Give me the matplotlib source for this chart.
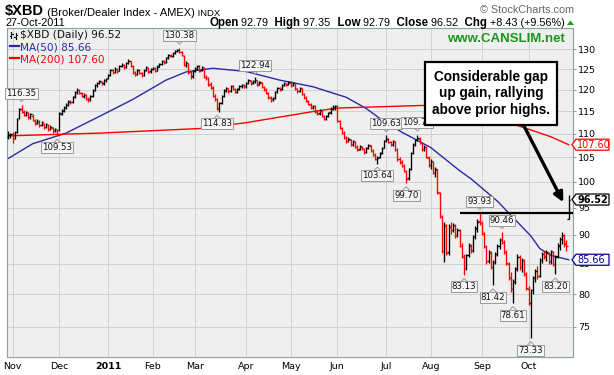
import matplotlib
matplotlib.use("Agg")
import matplotlib.pyplot as plt
from matplotlib.patches import Polygon, Rectangle
from matplotlib.lines import Line2D
from matplotlib.ticker import NullLocator
import pandas as pd

W, H = 614, 375

holidays = ["2010-11-25", "2010-12-24", "2011-01-17", "2011-02-21",
            "2011-04-22", "2011-05-30", "2011-07-04", "2011-09-05"]

# daily OHLC, 28-Oct-2010 .. 27-Oct-2011
opens = [
    109.3, 109.6, 110.0, 109.0, 110.4, 113.5, 115.6, 114.8, 114.2, 114.6, 113.6, 114.0, 112.8, 112.3, 112.6, 111.9, 112.2, 111.5, 111.8, 111.0, 111.2, 110.7, 110.6,
    110.8, 114.4, 115.1, 115.9, 116.4, 117.3, 117.1, 118.4, 119.5, 119.9, 119.1, 118.4, 118.7, 117.8, 117.7, 118.6, 119.9, 121.0, 121.6, 121.9, 121.5, 122.3,
    122.8, 123.6, 124.7, 124.3, 124.9, 124.6, 125.8, 125.9, 125.6, 126.5, 126.9, 125.7, 124.1, 123.8, 124.7, 124.0, 123.6, 124.7, 125.3, 124.4,
    125.1, 125.2, 124.6, 125.7, 126.3, 126.9, 126.7, 127.9, 128.4, 128.3, 129.1, 129.6, 129.8, 129.3, 128.4, 126.0, 126.4, 124.3, 123.2,
    124.6, 125.1, 125.7, 124.7, 125.2, 123.1, 122.7, 121.3, 120.5, 118.6, 117.7, 115.7, 116.9, 118.6, 119.9, 120.3, 119.7, 120.8, 120.1, 119.5, 120.2, 120.8, 121.1,
    120.8, 121.7, 122.1, 121.6, 122.0, 122.2, 121.3, 121.7, 120.6, 120.0, 119.2, 118.1, 117.7, 118.1, 119.6, 120.3, 120.1, 121.1, 121.4, 121.3,
    121.7, 121.1, 121.5, 120.2, 119.7, 120.3, 118.9, 118.1, 117.3, 116.5, 115.9, 116.1, 114.8, 114.5, 115.1, 113.9, 113.3, 113.9, 114.7, 115.6, 115.9,
    116.1, 112.7, 111.2, 110.2, 109.1, 108.4, 108.7, 107.7, 108.2, 107.1, 106.6, 107.2, 106.7, 106.1, 106.9, 107.4, 106.3, 105.4, 104.5, 105.0, 105.9, 107.0,
    108.5, 108.8, 108.1, 107.7, 108.2, 106.5, 104.6, 103.9, 103.1, 102.1, 100.7, 102.6, 105.9, 107.7, 108.7, 108.9, 107.9, 106.6, 107.1, 104.9,
    103.4, 104.0, 101.8, 102.4, 97.8, 93.3, 87.2, 91.6, 86.9, 91.4, 90.9, 91.6, 90.0, 90.8, 88.0, 86.2, 84.3, 86.5, 88.1, 87.3, 89.7, 91.1, 92.5,
    92.1, 90.2, 87.9, 85.5, 86.8, 84.4, 85.3, 86.7, 88.1, 89.2, 88.7, 86.9, 85.0, 82.6, 80.9, 82.1, 84.2, 86.1, 84.5, 85.5, 83.2,
    80.9, 78.6, 80.7, 82.7, 83.7, 83.0, 85.7, 86.6, 86.2, 86.8, 85.4, 87.0, 84.9, 86.3, 88.1, 89.3, 89.8, 88.5, 92.79,
]
highs = [
    110.5, 110.2, 110.3, 110.6, 113.4, 115.8, 116.35, 115.3, 115.1, 114.9, 114.6, 114.4, 113.3, 113.2, 112.9, 112.8, 112.4, 112.3, 112.1, 111.8, 111.4, 111.3, 111.0,
    114.8, 115.6, 116.1, 116.8, 117.5, 117.6, 118.6, 119.8, 120.3, 120.1, 119.4, 119.2, 118.9, 118.2, 118.8, 120.1, 121.3, 121.9, 122.4, 122.1, 122.6, 122.8,
    123.8, 125.1, 125.0, 125.4, 125.2, 126.1, 126.4, 126.2, 126.7, 127.4, 127.1, 126.0, 124.5, 125.1, 125.0, 124.3, 124.9, 125.7, 125.5, 125.3,
    125.6, 125.4, 125.9, 126.6, 127.3, 127.2, 128.1, 128.8, 128.7, 129.3, 129.9, 130.1, 130.38, 129.6, 128.6, 126.9, 126.6, 124.6, 124.8,
    125.5, 126.1, 125.9, 125.7, 125.4, 123.5, 123.0, 121.9, 120.8, 118.9, 118.0, 117.1, 118.8, 120.1, 120.7, 120.5, 121.2, 121.1, 120.4, 120.4, 121.1, 121.4, 121.3,
    121.9, 122.5, 122.3, 122.2, 122.94, 122.4, 122.1, 121.9, 120.9, 120.3, 119.5, 118.5, 118.3, 119.8, 120.7, 120.6, 121.3, 121.8, 121.6, 122.1,
    122.0, 121.9, 121.7, 120.5, 120.7, 120.5, 119.3, 118.5, 117.6, 116.9, 116.5, 116.3, 115.2, 115.5, 115.3, 114.2, 114.1, 114.9, 115.9, 116.3, 116.5,
    116.3, 113.0, 111.5, 110.6, 109.5, 109.2, 108.9, 108.6, 108.4, 107.5, 107.6, 107.4, 107.0, 107.1, 107.8, 107.6, 106.6, 105.8, 105.2, 106.1, 107.2, 108.7,
    109.63, 109.1, 108.4, 108.6, 108.4, 106.8, 105.0, 104.3, 103.5, 102.4, 102.8, 106.1, 107.9, 108.9, 109.76, 109.2, 108.2, 107.5, 107.3, 105.2,
    104.6, 104.2, 102.9, 102.6, 98.0, 93.6, 92.3, 91.9, 92.0, 92.4, 92.1, 91.9, 91.3, 91.0, 88.5, 86.6, 86.7, 88.6, 88.4, 89.9, 91.5, 92.8, 93.93,
    92.5, 90.5, 88.2, 87.3, 87.1, 85.6, 86.9, 88.3, 89.4, 90.46, 89.0, 87.3, 85.3, 83.6, 82.4, 84.5, 86.6, 86.5, 86.0, 85.8, 83.6,
    81.3, 80.9, 82.9, 84.1, 84.6, 85.9, 87.0, 87.1, 87.3, 87.0, 87.4, 87.2, 86.5, 88.5, 89.6, 90.5, 90.1, 89.0, 97.35,
]
lows = [
    108.9, 109.0, 108.0, 108.8, 110.1, 113.2, 114.6, 113.8, 113.9, 113.2, 113.3, 112.7, 111.8, 112.0, 111.4, 111.6, 111.0, 111.2, 110.6, 110.7, 110.2, 110.3, 109.53,
    110.6, 114.1, 114.8, 115.5, 116.1, 116.6, 116.9, 118.1, 119.0, 118.9, 118.2, 118.1, 117.5, 117.2, 117.4, 118.3, 119.6, 120.7, 121.3, 121.0, 121.2, 121.9,
    122.5, 123.3, 123.8, 124.0, 124.1, 124.4, 125.4, 125.1, 125.3, 126.2, 125.5, 123.9, 123.2, 123.5, 123.7, 123.1, 123.4, 124.4, 124.0, 124.1,
    124.7, 124.2, 124.4, 125.4, 126.0, 126.3, 126.5, 127.6, 127.9, 128.0, 128.8, 129.3, 129.0, 128.3, 125.8, 125.6, 123.9, 122.6, 122.9,
    124.3, 124.8, 124.3, 124.4, 122.7, 122.4, 120.9, 120.2, 118.2, 117.4, 115.3, 114.83, 116.6, 118.3, 119.5, 119.3, 119.5, 119.9, 119.1, 119.3, 119.9, 120.5, 120.4,
    120.5, 121.3, 121.2, 121.3, 121.7, 120.9, 121.0, 120.4, 119.8, 119.0, 117.9, 117.2, 117.3, 117.9, 119.3, 119.7, 119.9, 120.8, 120.9, 121.0,
    120.7, 120.8, 120.0, 119.3, 119.4, 118.7, 117.9, 117.1, 116.3, 115.5, 115.6, 114.6, 114.1, 114.2, 113.7, 112.9, 113.0, 113.6, 114.4, 115.3, 115.3,
    112.6, 111.0, 109.8, 108.9, 107.9, 108.1, 107.3, 107.4, 106.9, 106.2, 106.4, 106.5, 105.7, 105.9, 106.6, 106.1, 105.2, 104.3, 103.64, 104.8, 105.6, 106.8,
    108.2, 107.9, 107.3, 107.4, 106.3, 104.2, 103.6, 102.9, 101.9, 99.70, 100.4, 102.4, 105.6, 107.4, 108.3, 107.7, 106.2, 106.3, 104.7, 103.0,
    102.6, 101.6, 100.9, 97.6, 93.0, 86.8, 85.2, 86.4, 86.5, 90.2, 90.5, 89.5, 89.6, 87.8, 85.9, 83.13, 84.0, 86.2, 86.8, 87.0, 89.3, 90.5, 91.8,
    89.9, 87.7, 85.0, 85.1, 84.1, 81.42, 84.9, 86.3, 87.5, 88.3, 86.6, 84.7, 82.3, 80.3, 78.61, 81.7, 83.8, 84.0, 83.6, 82.9, 80.6,
    78.3, 73.33, 80.1, 82.0, 82.4, 82.8, 85.1, 85.8, 85.4, 84.9, 85.0, 84.6, 83.20, 85.9, 87.3, 88.4, 87.9, 87.2, 92.79,
]
closes = [
    109.6, 109.9, 108.9, 110.3, 113.0, 115.5, 115.0, 114.2, 114.8, 113.6, 114.3, 113.0, 112.2, 112.8, 111.8, 112.5, 111.4, 112.0, 110.9, 111.5, 110.6, 111.0, 110.0,
    114.5, 115.2, 115.8, 116.5, 117.2, 117.0, 118.3, 119.5, 120.0, 119.2, 118.5, 118.8, 117.8, 117.6, 118.5, 119.8, 121.0, 121.6, 122.0, 121.4, 122.3, 122.5,
    123.5, 124.8, 124.2, 125.0, 124.5, 125.8, 126.0, 125.5, 126.4, 127.0, 125.8, 124.2, 123.6, 124.8, 124.0, 123.5, 124.6, 125.4, 124.3, 125.0,
    125.3, 124.5, 125.6, 126.3, 127.0, 126.6, 127.8, 128.5, 128.2, 129.0, 129.6, 129.8, 129.2, 128.6, 126.0, 126.5, 124.2, 123.0, 124.5,
    125.2, 125.8, 124.6, 125.4, 123.0, 122.8, 121.2, 120.6, 118.5, 117.8, 115.6, 116.8, 118.5, 119.8, 120.4, 119.6, 120.9, 120.2, 119.4, 120.1, 120.8, 121.0, 120.7,
    121.6, 122.2, 121.5, 121.9, 122.3, 121.2, 121.8, 120.7, 120.1, 119.3, 118.2, 117.6, 118.0, 119.5, 120.4, 120.0, 121.0, 121.5, 121.2, 121.8,
    121.0, 121.6, 120.3, 119.6, 120.4, 119.0, 118.2, 117.4, 116.6, 115.8, 116.2, 114.9, 114.4, 115.2, 114.0, 113.2, 113.8, 114.6, 115.6, 116.0, 116.2,
    112.8, 111.3, 110.1, 109.2, 108.3, 108.8, 107.6, 108.3, 107.2, 106.5, 107.3, 106.8, 106.0, 106.8, 107.5, 106.4, 105.5, 104.6, 104.9, 105.8, 106.9, 108.4,
    108.9, 108.2, 107.6, 108.3, 106.6, 104.5, 104.0, 103.2, 102.2, 100.6, 102.5, 105.8, 107.6, 108.6, 109.0, 108.0, 106.5, 107.2, 105.0, 103.3,
    104.1, 101.9, 102.5, 97.9, 93.4, 87.1, 91.8, 86.8, 91.5, 90.8, 91.7, 89.9, 90.9, 88.1, 86.3, 84.2, 86.4, 88.2, 87.2, 89.6, 91.2, 92.4, 92.2,
    90.3, 88.0, 85.4, 86.9, 84.5, 85.2, 86.6, 88.0, 89.1, 88.8, 87.0, 85.1, 82.7, 81.0, 82.0, 84.1, 86.2, 84.4, 85.6, 83.3, 81.0,
    78.7, 80.6, 82.6, 83.8, 82.9, 85.6, 86.7, 86.3, 86.9, 85.3, 87.1, 85.0, 86.2, 88.2, 89.2, 89.9, 88.4, 88.09, 96.52,
]

# moving averages, read at a few bars
ma50_idx = [0, 11, 26, 41, 56, 71, 80, 92, 107, 122, 137, 152, 161, 167, 177, 190, 203, 208, 220, 229, 235, 239, 244, 252]
ma50_val = [104.7, 107.8, 110.1, 113.8, 117.7, 122.3, 124.3, 125.2, 124.4, 122.3, 120.7, 118.2, 115.6, 113.4, 110.3,
            107.0, 102.2, 100.6, 96.2, 92.3, 89.8, 87.6, 86.4, 85.66]
ma200_idx = [0, 41, 86, 107, 137, 148, 167, 186, 195, 205, 215, 225, 235, 244, 252]
ma200_val = [109.5, 110.1, 111.1, 112.4, 114.9, 115.7, 116.0, 116.3, 116.2, 115.0, 113.7, 112.4, 110.8, 109.3, 107.60]

y_ticks = [75, 80, 85, 90, 95, 100, 105, 110, 115, 120, 125, 130]
month_names = ["Nov", "Dec", "2011", "Feb", "Mar", "Apr", "May", "Jun", "Jul", "Aug", "Sep", "Oct"]

# labelled highs / lows
peak_idx = [6, 22, 77, 94, 111, 166, 170, 179, 184, 212, 205, 218, 222, 227, 235, 246]
peak_val = [116.35, 109.53, 130.38, 114.83, 122.94, 103.64, 109.63, 99.70, 109.76,
            93.93, 83.13, 81.42, 90.46, 78.61, 73.33, 83.20]
peak_side = ["hi", "lo", "hi", "lo", "hi", "lo", "hi", "lo", "hi",
             "hi", "lo", "lo", "hi", "lo", "lo", "lo"]

breakout_level = 93.93
breakout_from = 203

# trading days
dates = pd.bdate_range("2010-10-28", "2011-10-27")
dates = dates[~dates.isin(pd.to_datetime(holidays))]
n = len(closes)
dates = dates[:n]
idx = list(range(n))
month_pos = [i for i in range(1, n) if dates[i].month != dates[i - 1].month]

fig = plt.figure(figsize=(W / 100, H / 100), dpi=100)
ax = fig.add_axes([7.3 / W, 1 - 357.3 / H, (573.3 - 7.3) / W, (357.3 - 28) / H])
ax.set_facecolor("#efefef")

ax.set_yscale("log")
ax.set_ylim(70.6, 135.6)
ax.set_xlim(-0.4, 254.1)

bar_col = ["black"] + ["red" if closes[i] < closes[i - 1] else "black" for i in range(1, n)]
ax.vlines(idx, lows, highs, colors=bar_col, lw=0.95, zorder=3)
ax.hlines(opens, [i - 0.6 for i in idx], idx, colors=bar_col, lw=0.95, zorder=3)
ax.hlines(closes, idx, [i + 0.6 for i in idx], colors=bar_col, lw=0.95, zorder=3)

ax.plot(ma50_idx, ma50_val, color="#2a2aa5", lw=1.0, zorder=2)
ax.plot(ma200_idx, ma200_val, color="#ff0000", lw=1.0, zorder=2)

ax.hlines(breakout_level, breakout_from, 254.1, color="black", lw=1.6, zorder=4)

# axes styling
ax.yaxis.tick_right()
ax.set_yticks(y_ticks, labels=[str(v) for v in y_ticks])
ax.yaxis.set_minor_locator(NullLocator())
ax.set_xticks(month_pos, labels=month_names[:len(month_pos)])
ax.tick_params(axis="y", which="both", length=2.5, width=0.7, color="#8a9a9a",
               labelsize=6.8, pad=1, left=False)
ax.tick_params(axis="x", length=0, labelsize=6.8, pad=3.5)
for lab in ax.get_xticklabels():
    if lab.get_text() == "2011":
        lab.set_fontweight("bold")
ax.grid(True, color="#d2d2d2", lw=0.7, zorder=0)
ax.set_axisbelow(True)
for sp in ax.spines.values():
    sp.set_color("#8fa0a0")
    sp.set_linewidth(0.8)


def fx(px):
    return px / W


def fy(py):
    return 1 - py / H


def to_img(i, v):
    dx, dy = ax.transData.transform((i, v))
    return dx, H - dy


renderer = fig.canvas.get_renderer()


def text_row(x_px, y_px, pieces, ha="left"):
    arts = [fig.text(0, 0, s, va="baseline", **kw) for s, kw in pieces]
    widths = [a.get_window_extent(renderer).width for a in arts]
    start = x_px - sum(widths) if ha == "right" else x_px
    for a, w in zip(arts, widths):
        a.set_position((fx(start), fy(y_px)))
        start += w
    return start


# price labels
for i, v, side in zip(peak_idx, peak_val, peak_side):
    cx, ey = to_img(i, v)
    cy = ey - 12 if side == "hi" else ey + 12
    fig.text(fx(cx), fy(cy), f"{v:.2f}", ha="center", va="center", fontsize=6.2,
             color="#111111", zorder=6,
             bbox=dict(boxstyle="square,pad=0.12", fc="#f6f6f6", ec="#9a9a9a", lw=0.7))
    edge = cy + 5.5 if side == "hi" else cy - 5.5
    tip = edge + 3 if side == "hi" else edge - 3
    fig.add_artist(Line2D([fx(cx - 3), fx(cx), fx(cx + 3)], [fy(edge), fy(tip), fy(edge)],
                          color="#9a9a9a", lw=0.7, zorder=6))

# right value tags
for v, col, weight in [(107.60, "#ff0000", "normal"), (96.52, "black", "bold"), (85.66, "#0000a0", "normal")]:
    _, ty = to_img(n - 1, v)
    x0, x1 = 572, 609
    poly = Polygon([(fx(x0), fy(ty)), (fx(x0 + 4), fy(ty - 5.5)), (fx(x1), fy(ty - 5.5)),
                    (fx(x1), fy(ty + 5.5)), (fx(x0 + 4), fy(ty + 5.5))],
                   closed=True, fc="white", ec=col, lw=0.9, transform=fig.transFigure, zorder=7)
    fig.add_artist(poly)
    fig.text(fx(x0 + 5), fy(ty), f"{v:.2f}", ha="left", va="center", fontsize=7,
             color=col, fontweight=weight, zorder=8)

# header
text_row(5, 15.5, [("$XBD", dict(fontsize=10.5, fontweight="bold", family="Liberation Sans")),
                   (" (Broker/Dealer Index - AMEX)", dict(fontsize=8, family="Liberation Sans")),
                   (" INDX", dict(fontsize=6.8, family="Liberation Sans"))])
fig.text(fx(6), fy(26.3), "27-Oct-2011", fontsize=7.8, family="Liberation Sans", va="baseline")
bold = dict(fontsize=8.3, fontweight="bold", family="Liberation Sans")
reg = dict(fontsize=7.8, family="Liberation Sans")
text_row(565, 26.3, [("Open", bold), (" 92.79", reg), ("  High", bold), (" 97.35", reg),
                     ("  Low", bold), (" 92.79", reg), ("  Close", bold), (" 96.52", reg),
                     ("  Chg", bold), (" +8.43 (+9.56%)", reg)], ha="right")
fig.add_artist(Polygon([(fx(567), fy(25)), (fx(574), fy(25)), (fx(570.5), fy(20.5))],
                       closed=True, fc="#1aa01a", ec="none", transform=fig.transFigure))
fig.text(fx(574), fy(12.7), "\u00a9 StockCharts.com", ha="right", va="baseline",
         fontsize=7.8, color="#666666", family="Liberation Sans")

# in-chart legend
for bx, lo_, hi_ in [(11, 37.5, 31.5), (15.5, 38.5, 32.5)]:
    fig.add_artist(Line2D([fx(bx), fx(bx)], [fy(lo_), fy(hi_)], color="black", lw=0.8))
    fig.add_artist(Line2D([fx(bx - 1.5), fx(bx)], [fy(lo_ - 1.5), fy(lo_ - 1.5)], color="black", lw=0.8))
    fig.add_artist(Line2D([fx(bx), fx(bx + 1.5)], [fy(hi_ + 2), fy(hi_ + 2)], color="black", lw=0.8))
fig.text(fx(20), fy(38.3), "$XBD (Daily) 96.52", fontsize=7.6, va="baseline", color="#111111")
fig.add_artist(Line2D([fx(10), fx(19)], [fy(45.7), fy(45.7)], color="#2a2aa5", lw=1.6))
fig.text(fx(20), fy(50.3), "MA(50) 85.66", fontsize=7.6, va="baseline", color="#2a2aa5")
fig.add_artist(Line2D([fx(10), fx(19)], [fy(57.7), fy(57.7)], color="#ff0000", lw=1.6))
fig.text(fx(20), fy(62.3), "MA(200) 107.60", fontsize=7.6, va="baseline", color="#ff0000")

fig.text(fx(565), fy(38.5), "www.CANSLIM.net", ha="right", va="center", fontsize=9.5,
         fontweight="bold", color="#1a961a", family="Liberation Sans")

# commentary box + arrow
fig.add_artist(Rectangle((fx(425), fy(125)), (557 - 425) / W, (125 - 62) / H, fc="white",
                         ec="black", lw=1.6, transform=fig.transFigure, zorder=9))
for k, line in enumerate(["Considerable gap", "up gain, rallying", "above prior highs."]):
    fig.text(fx(491), fy(77 + 16.5 * k), line, ha="center", va="center", fontsize=9.8,
             fontweight="bold", family="Liberation Sans", zorder=10)
ax.annotate("", xy=(249.6, 96.0), xycoords="data", xytext=(fx(524), fy(126)),
            textcoords="figure fraction", zorder=8,
            arrowprops=dict(arrowstyle="-|>", color="black", lw=2.4, mutation_scale=14,
                            shrinkA=0, shrinkB=0))

fig.savefig("out.png", dpi=100)
